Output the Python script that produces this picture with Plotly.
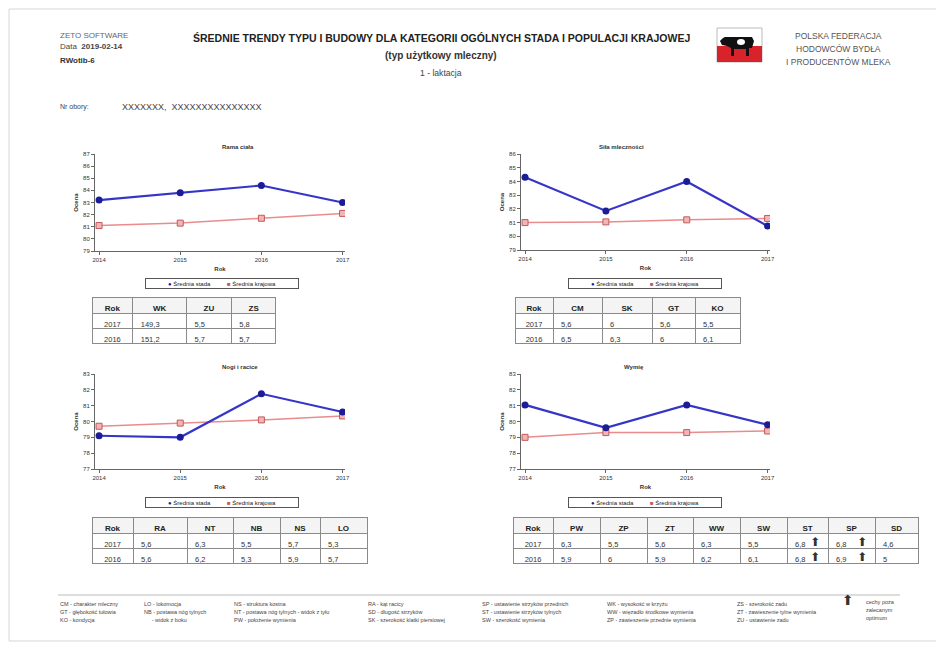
import plotly.graph_objects as go

# the page body keeps its default 8px margin, so the figure is sized to fit inside it
OX, OY = 8, 8
W, H = 936, 640

# --- data -----------------------------------------------------------------
years = [2014, 2015, 2016, 2017]
chart_titles = ["Rama ciała", "Siła mleczności", "Nogi i racice", "Wymię"]

rama_stada = [83.2, 83.8, 84.4, 83.0]
rama_kraj = [81.1, 81.3, 81.7, 82.1]
mlecz_stada = [84.3, 81.85, 84.0, 80.75]
mlecz_kraj = [81.0, 81.05, 81.2, 81.3]
nogi_stada = [79.1, 79.0, 81.75, 80.6]
nogi_kraj = [79.7, 79.9, 80.1, 80.35]
wymie_stada = [81.05, 79.6, 81.05, 79.8]
wymie_kraj = [79.0, 79.3, 79.3, 79.4]

tab_years = [2017, 2016]
t1_cols = ["WK", "ZU", "ZS"]
t1_2017 = [149.3, 5.5, 5.8]
t1_2016 = [151.2, 5.7, 5.7]
t2_cols = ["CM", "SK", "GT", "KO"]
t2_2017 = [5.6, 6, 5.6, 5.5]
t2_2016 = [6.5, 6.3, 6, 6.1]
t3_cols = ["RA", "NT", "NB", "NS", "LO"]
t3_2017 = [5.6, 6.3, 5.5, 5.7, 5.3]
t3_2016 = [5.6, 6.2, 5.3, 5.9, 5.7]
t4_cols = ["PW", "ZP", "ZT", "WW", "SW", "ST", "SP", "SD"]
t4_2017 = [6.3, 5.5, 5.6, 6.3, 5.5, 6.8, 6.8, 4.6]
t4_2016 = [5.9, 6, 5.9, 6.2, 6.1, 6.8, 6.9, 5]
t4_flagged = ["ST", "SP"]  # cechy poza zalecanym optimum

footer_cols = [
    ["CM - charakter mleczny", "GT - głębokość tułowia", "KO - kondycja"],
    ["LO - lokomocja", "NB - postawa nóg tylnych", "     - widok z boku"],
    ["NS - struktura kostna", "NT - postawa nóg tylnych - widok z tyłu", "PW - położenie wymienia"],
    ["RA - kąt racicy", "SD - długość strzyków", "SK - szerokość klatki piersiowej"],
    ["SP - ustawienie strzyków przednich", "ST - ustawienie strzyków tylnych", "SW - szerokość wymienia"],
    ["WK - wysokość w krzyżu", "WW - więzadło środkowe wymienia", "ZP - zawieszenie przednie wymienia"],
    ["ZS - szerokość zadu", "ZT - zawieszenie tylne wymienia", "ZU - ustawienie zadu"],
]

FONT = "Liberation Sans, Arial, sans-serif"
BLUE = "#3535c8"
BLUE_DARK = "#1c1c96"
PINK = "#e98c8c"
PINK_DARK = "#c25a5a"


def px(x):
    return (x - OX) / W


def py(y):
    return 1 - (y - OY) / H


def fmt(v):
    return f"{v:g}".replace(".", ",")


fig = go.Figure()

# --- charts ---------------------------------------------------------------
charts = [
    (rama_stada, rama_kraj, (95, 345, 154, 251), (79, 87), (222, 283)),
    (mlecz_stada, mlecz_kraj, (521, 770, 154, 250), (79, 86), (645, 283)),
    (nogi_stada, nogi_kraj, (95, 345, 374, 469), (77, 83), (222, 502)),
    (wymie_stada, wymie_kraj, (521, 770, 374, 469), (77, 83), (645, 502)),
]

legend_text = (
    f"<span style='color:{BLUE_DARK}'>●</span> Średnia stada"
    "          "
    f"<span style='color:{PINK_DARK}'>■</span> Średnia krajowa"
)

for i, (stada, kraj, box, yr, leg) in enumerate(charts):
    n = "" if i == 0 else str(i + 1)
    x0, x1, y0, y1 = box
    fig.add_trace(go.Scatter(
        x=years, y=kraj, mode="lines+markers", xaxis="x" + n, yaxis="y" + n,
        line=dict(color=PINK, width=1.5), showlegend=False,
        marker=dict(symbol="square", size=6, color="#f2b5b5", line=dict(color=PINK_DARK, width=1)),
    ))
    fig.add_trace(go.Scatter(
        x=years, y=stada, mode="lines+markers", xaxis="x" + n, yaxis="y" + n,
        line=dict(color=BLUE, width=2.2), showlegend=False,
        marker=dict(symbol="circle", size=7, color=BLUE_DARK),
    ))

    fig.update_layout({
        "xaxis" + n: dict(
            domain=[px(x0), px(x1)], anchor="y" + n, range=[2013.95, 2017.03],
            tickvals=years, ticktext=[str(y) for y in years],
            showline=True, linecolor="#666", linewidth=1, ticks="outside", ticklen=3,
            tickcolor="#666", showgrid=False, zeroline=False,
            tickfont=dict(size=6, color="#333", family=FONT),
            title=dict(text="<b>Rok</b>", font=dict(size=6, color="#333"), standoff=4),
        ),
        "yaxis" + n: dict(
            domain=[py(y1), py(y0)], anchor="x" + n, range=list(yr), dtick=1,
            showline=True, linecolor="#666", linewidth=1, ticks="outside", ticklen=3,
            tickcolor="#666", showgrid=False, zeroline=False,
            tickfont=dict(size=6, color="#333", family=FONT),
            title=dict(text="<b>Ocena</b>", font=dict(size=6, color="#333"), standoff=4),
        ),
    })
    fig.add_annotation(
        x=px((x0 + x1) / 2), y=py(y0 - 7), xref="paper", yref="paper",
        text="<b>" + chart_titles[i] + "</b>", showarrow=False,
        font=dict(size=6, color="#333", family=FONT), yanchor="middle",
    )
    # legend box as in the report
    fig.add_annotation(
        x=px(leg[0]), y=py(leg[1]), xref="paper", yref="paper", text=legend_text,
        showarrow=False, xanchor="center", yanchor="middle", width=150, height=7,
        bordercolor="#555", borderwidth=1, borderpad=1, bgcolor="white",
        font=dict(size=6, color="#222", family=FONT),
    )

# --- tables ---------------------------------------------------------------
tables = [
    (t1_cols, t1_2017, t1_2016, 92, 297, [41, 54, 45, 45]),
    (t2_cols, t2_2017, t2_2016, 515, 297, [38, 49, 50, 43, 45]),
    (t3_cols, t3_2017, t3_2016, 92, 517, [41, 54, 46, 47, 40, 47]),
    (t4_cols, t4_2017, t4_2016, 513, 517, [40, 47, 47, 46, 47, 47, 41, 47, 43]),
]

for cols, r17, r16, tx, ty, widths in tables:
    header = ["Rok"] + cols
    cells = [[str(y) for y in tab_years]] + [[fmt(a), fmt(b)] for a, b in zip(r17, r16)]
    fig.add_trace(go.Table(
        domain=dict(x=[px(tx), px(tx + sum(widths))], y=[py(ty + 60), py(ty)]),
        columnwidth=widths,
        header=dict(values=header, height=16, align="center", fill_color="#f4f4f4",
                    line=dict(color="#8a8a8a", width=1),
                    font=dict(size=8, color="#222", family=FONT, weight="bold")),
        cells=dict(values=cells, height=15, align=["center"] + ["left"] * len(cols),
                   fill_color="white", line=dict(color="#8a8a8a", width=1),
                   font=dict(size=7.5, color="#333", family=FONT)),
    ))

# arrows for flagged traits in the udder table
cols, r17, r16, tx, ty, widths = tables[3]
for c in t4_flagged:
    k = cols.index(c) + 1
    right = tx + sum(widths[:k + 1])
    for row in range(2):
        fig.add_annotation(
            x=px(right - 6), y=py(ty + 16 + 15 * row + 9), xref="paper", yref="paper",
            text="⬆", showarrow=False, yanchor="middle",
            font=dict(size=12, color="#333", family="DejaVu Sans"),
        )

# --- header ---------------------------------------------------------------
def txt(x, y, s, size=8, color="#333", anchor="left"):
    fig.add_annotation(x=px(x), y=py(y), xref="paper", yref="paper", text=s,
                       showarrow=False, xanchor=anchor, yanchor="middle",
                       font=dict(size=size, color=color, family=FONT))


txt(58, 35, "ZETO SOFTWARE", 8, "#666")
txt(58, 47, "Data  <b>2019-02-14</b>", 8, "#444")
txt(58, 60, "<b>RWotib-6</b>", 8, "#333")
txt(441, 38, "<b>ŚREDNIE TRENDY TYPU I BUDOWY DLA KATEGORII OGÓLNYCH STADA I POPULACJI KRAJOWEJ</b>",
    10.5, "#222", "center")
txt(441, 55, "<b>(typ użytkowy mleczny)</b>", 10, "#333", "center")
txt(441, 73, "1 - laktacja", 8.6, "#444", "center")
txt(838, 36, "POLSKA FEDERACJA", 8.5, "#555", "center")
txt(838, 49, "HODOWCÓW BYDŁA", 8.5, "#555", "center")
txt(838, 62, "I PRODUCENTÓW MLEKA", 8.5, "#555", "center")
txt(58, 107, "Nr obory:", 7, "#444")
txt(120, 107, "XXXXXXX,  XXXXXXXXXXXXXXX", 9, "#444")

# logo
shapes = [
    dict(type="rect", xref="paper", yref="paper", x0=px(717), x1=px(762), y0=py(62), y1=py(28),
         fillcolor="white", line=dict(color="#bbb", width=1)),
    dict(type="rect", xref="paper", yref="paper", x0=px(717), x1=px(762), y0=py(62), y1=py(46),
         fillcolor="#d8232a", line=dict(width=0)),
]
cow = [(725, 37), (752, 37), (754, 41), (752, 48), (749, 48), (749, 56), (746, 56), (746, 49),
       (734, 49), (734, 56), (731, 56), (731, 48), (727, 46), (722, 45), (720, 41), (723, 38)]
path = "M " + " L ".join(f"{px(a):.5f},{py(b):.5f}" for a, b in cow) + " Z"
shapes.append(dict(type="path", xref="paper", yref="paper", path=path,
                   fillcolor="#111", line=dict(width=0)))
shapes.append(dict(type="circle", xref="paper", yref="paper", x0=px(737), x1=px(745),
                   y0=py(45), y1=py(39), fillcolor="white", line=dict(width=0)))

# footer
shapes.append(dict(type="line", xref="paper", yref="paper", x0=px(58), x1=px(900),
                   y0=py(595), y1=py(595), line=dict(color="#bbb", width=1)))
shapes.append(dict(type="rect", xref="paper", yref="paper", x0=px(9), x1=px(938),
                   y0=py(641), y1=py(9), line=dict(color="#d6d6d6", width=1)))

col_x = [58, 142, 232, 366, 480, 605, 735]
for cx, lines in zip(col_x, footer_cols):
    for r, s in enumerate(lines):
        txt(cx, 604 + 8 * r, s, 5.5, "#444")

fig.add_annotation(x=px(856), y=py(610), xref="paper", yref="paper", text="⬆", showarrow=False,
                   font=dict(size=14, color="#333", family="DejaVu Sans"))
txt(864, 602, "cechy poza", 5.5, "#444")
txt(864, 610, "zalecanym", 5.5, "#444")
txt(864, 618, "optimum", 5.5, "#444")

fig.update_layout(
    width=W, height=H, margin=dict(l=0, r=0, t=0, b=0, autoexpand=False),
    paper_bgcolor="white", plot_bgcolor="white",
    font=dict(family=FONT, color="#333"),
    shapes=shapes, showlegend=False,
)

fig.write_html("out.html")
